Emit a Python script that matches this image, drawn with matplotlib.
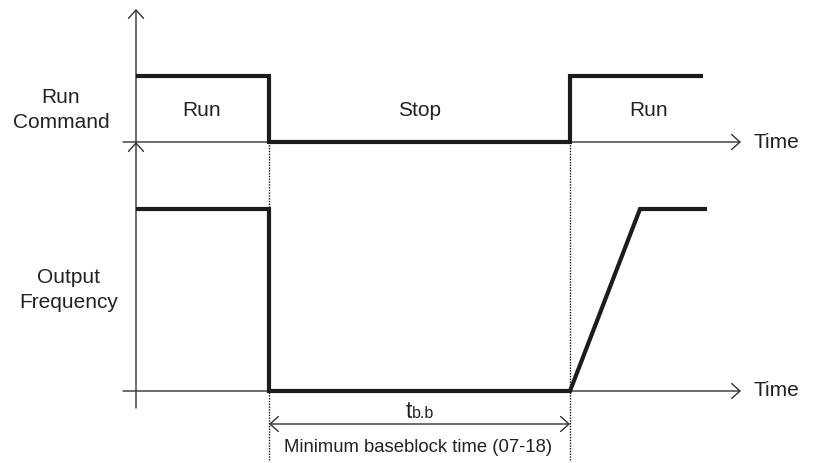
import matplotlib
matplotlib.use("Agg")
import matplotlib.pyplot as plt

# ---- data (time in arbitrary units along the time axis, levels 0/1) ----
run_time = [136, 269, 269, 570, 570, 703]
run_level = [1, 1, 0, 0, 1, 1]
freq_time = [136, 269, 269, 570, 640, 707]
freq_level = [1, 1, 0, 0, 1, 1]
state_labels = ["Run", "Stop", "Run"]
state_centers = [202, 420, 649]
t_stop = 269
t_restart = 570
channel_labels = ["Run\nCommand", "Output\nFrequency"]
axis_label = "Time"
tbb_main, tbb_sub = "t", "b.b"
tbb_caption = "Minimum baseblock time (07-18)"

# ---- layout ----
plt.rcParams['font.family'] = ['Liberation Sans', 'DejaVu Sans']
W, H = 819, 463
fig = plt.figure(figsize=(W / 100, H / 100), dpi=100)
ax = fig.add_axes([0, 0, 1, 1])
ax.set_xlim(0, W)
ax.set_ylim(H, 0)
ax.axis('off')

x_axis0 = 136
run_base, run_high = 142, 76
freq_base, freq_high = 391, 209
axis_end = 741
wave_col = '#1c1c1c'
ax_col = '#333333'
txt_col = '#222222'

def to_y(levels, base, high):
    return [base - lv * (base - high) for lv in levels]

arrow_kw = dict(arrowstyle='->,head_length=0.5,head_width=0.45', lw=1.0,
                color=ax_col, shrinkA=0, shrinkB=0, mutation_scale=12)

# vertical axes
ax.annotate('', xy=(x_axis0, 9), xytext=(x_axis0, run_base), arrowprops=arrow_kw)
ax.annotate('', xy=(x_axis0, run_base), xytext=(x_axis0, 408), arrowprops=arrow_kw)
# horizontal time axes
for base in (run_base, freq_base):
    ax.annotate('', xy=(axis_end, base), xytext=(123, base), arrowprops=arrow_kw)
    ax.text(753, base, axis_label, fontsize=15, color=txt_col, va='center', ha='left')

# waveforms
ax.plot(run_time, to_y(run_level, run_base, run_high), color=wave_col, lw=3.0,
        solid_joinstyle='miter', solid_capstyle='butt', zorder=3)
ax.plot(freq_time, to_y(freq_level, freq_base, freq_high), color=wave_col, lw=3.0,
        solid_joinstyle='miter', solid_capstyle='butt', zorder=3)

# dotted guide lines
for t in (t_stop, t_restart):
    ax.plot([t, t], [run_base, 460], color='#111111', lw=1.0, dashes=(1, 1), zorder=2)

# state labels
for lab, xc in zip(state_labels, state_centers):
    ax.text(xc, 110, lab, fontsize=15, color=txt_col, ha='center', va='center')

# channel labels
ax.text(61, 110, channel_labels[0], fontsize=15, color=txt_col, ha='center',
        va='center', linespacing=1.42)
ax.text(69, 290, channel_labels[1], fontsize=15, color=txt_col, ha='center',
        va='center', linespacing=1.42)

# t_b.b dimension
ax.annotate('', xy=(t_stop, 424), xytext=(t_restart, 424),
            arrowprops=dict(arrowstyle='<->,head_length=0.5,head_width=0.45', lw=1.0,
                            color=ax_col, shrinkA=0, shrinkB=0, mutation_scale=12))
ax.text(412, 418, tbb_main, fontsize=16.5, color=txt_col, ha='right', va='baseline')
ax.text(412, 418.5, tbb_sub, fontsize=11.5, color=txt_col, ha='left', va='baseline')
ax.text((t_stop + t_restart) / 2 - 1, 448, tbb_caption, fontsize=13.3, color=txt_col,
        ha='center', va='center')

fig.savefig('out.png', dpi=100)
